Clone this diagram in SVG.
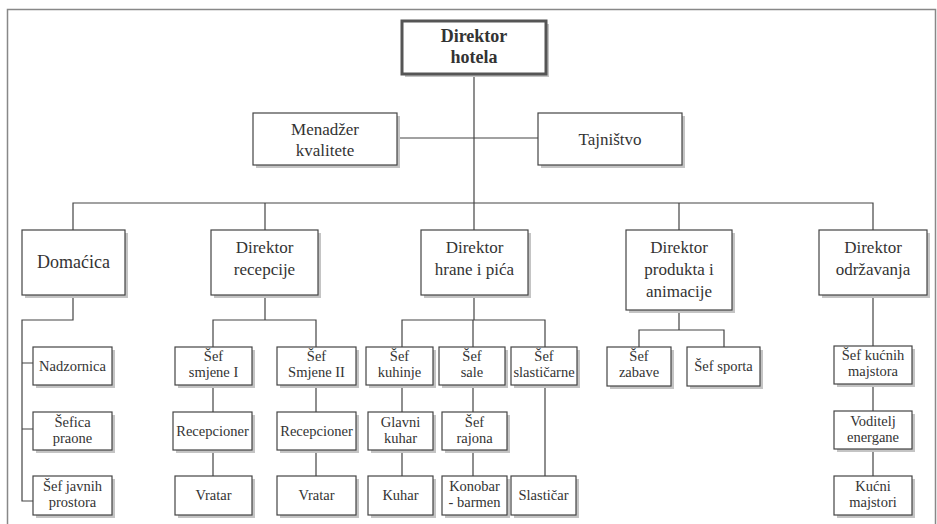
<svg xmlns="http://www.w3.org/2000/svg" width="937" height="524" viewBox="0 0 937 524">
<style>
.sh{fill:#c4c4c4}
.box{fill:#fff;stroke:#444;stroke-width:1.2}
.t{font-family:'Liberation Serif','Tinos','Times New Roman','DejaVu Serif',serif;fill:#333;text-anchor:middle}
.s17{font-size:17px}
.s18{font-size:18px}
.s14{font-size:14.5px}
.b{font-weight:bold}
.l{stroke:#444;stroke-width:1.2;fill:none}
</style>
<rect x="0" y="0" width="937" height="524" fill="#fff"/>
<path d="M7.5 526 V9.5 H935.5 V526" fill="none" stroke="#888" stroke-width="1.5"/>
<g id="connectors">
<path class="l" d="M474 74 V320"/>
<path class="l" d="M397 138 H538"/>
<path class="l" d="M73 230 V203 H873 V230"/>
<path class="l" d="M265 203 V230"/>
<path class="l" d="M679 203 V230"/>
<path class="l" d="M73 295 V320 H22 V501 H33"/>
<path class="l" d="M22 363 H33 M22 429 H33"/>
<path class="l" d="M265 295 V320 M213 347 V320 H316 V347"/>
<path class="l" d="M213 385 V412 M213 450 V476 M316 385 V412 M316 450 V476"/>
<path class="l" d="M402 347 V320 H545 V347 M473 320 V347"/>
<path class="l" d="M402 385 V412 M402 450 V476 M473 385 V412 M473 450 V476 M545 385 V476"/>
<path class="l" d="M679 310 V330 M639 347 V330 H724 V347"/>
<path class="l" d="M873 295 V346 M873 384 V411 M873 449 V476"/>
</g>
<g id="direktor-hotela">
<rect class="sh" x="405" y="24" width="144" height="53"/>
<rect x="402" y="21" width="144" height="53" fill="#fff" stroke="#555" stroke-width="3"/>
<text class="t s18 b" x="474" y="42">Direktor</text>
<text class="t s18 b" x="474" y="63">hotela</text>
</g>
<g id="menadzer-kvalitete">
<rect class="sh" x="256" y="116" width="144" height="52"/>
<rect class="box" x="253" y="113" width="144" height="52"/>
<text class="t s17" x="325" y="135">Menadžer</text>
<text class="t s17" x="325" y="156">kvalitete</text>
</g>
<g id="tajnistvo">
<rect class="sh" x="541" y="116" width="144" height="52"/>
<rect class="box" x="538" y="113" width="144" height="52"/>
<text class="t s17" x="610" y="145">Tajništvo</text>
</g>
<g id="domacica">
<rect class="sh" x="25" y="233" width="103" height="65"/>
<rect class="box" x="22" y="230" width="103" height="65"/>
<text class="t s18" x="73.5" y="268">Domaćica</text>
</g>
<g id="direktor-recepcije">
<rect class="sh" x="214" y="233" width="107" height="65"/>
<rect class="box" x="211" y="230" width="107" height="65"/>
<text class="t s17" x="264.5" y="253">Direktor</text>
<text class="t s17" x="264.5" y="275">recepcije</text>
</g>
<g id="direktor-hrane">
<rect class="sh" x="424" y="233" width="107" height="65"/>
<rect class="box" x="421" y="230" width="107" height="65"/>
<text class="t s17" x="474.5" y="253">Direktor</text>
<text class="t s17" x="474.5" y="275">hrane i pića</text>
</g>
<g id="direktor-produkta">
<rect class="sh" x="629" y="233" width="106" height="80"/>
<rect class="box" x="626" y="230" width="106" height="80"/>
<text class="t s17" x="679" y="253">Direktor</text>
<text class="t s17" x="679" y="275">produkta i</text>
<text class="t s17" x="679" y="297">animacije</text>
</g>
<g id="direktor-odrzavanja">
<rect class="sh" x="822" y="233" width="108" height="65"/>
<rect class="box" x="819" y="230" width="108" height="65"/>
<text class="t s17" x="873" y="253">Direktor</text>
<text class="t s17" x="873" y="275">održavanja</text>
</g>
<g id="nadzornica">
<rect class="sh" x="36" y="350" width="79" height="38"/>
<rect class="box" x="33" y="347" width="79" height="38"/>
<text class="t s14" x="72.5" y="371">Nadzornica</text>
</g>
<g id="sefica-praone">
<rect class="sh" x="36" y="415" width="79" height="38"/>
<rect class="box" x="33" y="412" width="79" height="38"/>
<text class="t s14" x="72.5" y="427">Šefica</text>
<text class="t s14" x="72.5" y="443">praone</text>
</g>
<g id="sef-javnih-prostora">
<rect class="sh" x="36" y="479" width="79" height="39"/>
<rect class="box" x="33" y="476" width="79" height="39"/>
<text class="t s14" x="72.5" y="491">Šef javnih</text>
<text class="t s14" x="72.5" y="507">prostora</text>
</g>
<g id="sef-smjene-1">
<rect class="sh" x="178" y="350" width="77" height="38"/>
<rect class="box" x="175" y="347" width="77" height="38"/>
<text class="t s14" x="213.5" y="361">Šef</text>
<text class="t s14" x="213.5" y="377">smjene I</text>
</g>
<g id="recepcioner-1">
<rect class="sh" x="176" y="415" width="79" height="38"/>
<rect class="box" x="173" y="412" width="79" height="38"/>
<text class="t s14" x="212.5" y="436">Recepcioner</text>
</g>
<g id="vratar-1">
<rect class="sh" x="178" y="479" width="77" height="39"/>
<rect class="box" x="175" y="476" width="77" height="39"/>
<text class="t s14" x="213.5" y="500">Vratar</text>
</g>
<g id="sef-smjene-2">
<rect class="sh" x="280" y="350" width="79" height="38"/>
<rect class="box" x="277" y="347" width="79" height="38"/>
<text class="t s14" x="316.5" y="361">Šef</text>
<text class="t s14" x="316.5" y="377">Smjene II</text>
</g>
<g id="recepcioner-2">
<rect class="sh" x="280" y="415" width="79" height="38"/>
<rect class="box" x="277" y="412" width="79" height="38"/>
<text class="t s14" x="316.5" y="436">Recepcioner</text>
</g>
<g id="vratar-2">
<rect class="sh" x="280" y="479" width="79" height="39"/>
<rect class="box" x="277" y="476" width="79" height="39"/>
<text class="t s14" x="316.5" y="500">Vratar</text>
</g>
<g id="sef-kuhinje">
<rect class="sh" x="369" y="350" width="67" height="38"/>
<rect class="box" x="366" y="347" width="67" height="38"/>
<text class="t s14" x="399.5" y="361">Šef</text>
<text class="t s14" x="399.5" y="377">kuhinje</text>
</g>
<g id="glavni-kuhar">
<rect class="sh" x="371" y="415" width="65" height="38"/>
<rect class="box" x="368" y="412" width="65" height="38"/>
<text class="t s14" x="400.5" y="427">Glavni</text>
<text class="t s14" x="400.5" y="443">kuhar</text>
</g>
<g id="kuhar">
<rect class="sh" x="371" y="479" width="65" height="39"/>
<rect class="box" x="368" y="476" width="65" height="39"/>
<text class="t s14" x="400.5" y="500">Kuhar</text>
</g>
<g id="sef-sale">
<rect class="sh" x="442" y="350" width="66" height="38"/>
<rect class="box" x="439" y="347" width="66" height="38"/>
<text class="t s14" x="472" y="361">Šef</text>
<text class="t s14" x="472" y="377">sale</text>
</g>
<g id="sef-rajona">
<rect class="sh" x="445" y="415" width="65" height="38"/>
<rect class="box" x="442" y="412" width="65" height="38"/>
<text class="t s14" x="474.5" y="427">Šef</text>
<text class="t s14" x="474.5" y="443">rajona</text>
</g>
<g id="konobar-barmen">
<rect class="sh" x="445" y="479" width="65" height="39"/>
<rect class="box" x="442" y="476" width="65" height="39"/>
<text class="t s14" x="474.5" y="491">Konobar</text>
<text class="t s14" x="474.5" y="507">- barmen</text>
</g>
<g id="sef-slasticarne">
<rect class="sh" x="514" y="350" width="66" height="38"/>
<rect class="box" x="511" y="347" width="66" height="38"/>
<text class="t s14" x="544" y="361">Šef</text>
<text class="t s14" x="544" y="377">slastičarne</text>
</g>
<g id="slasticar">
<rect class="sh" x="514" y="479" width="65" height="39"/>
<rect class="box" x="511" y="476" width="65" height="39"/>
<text class="t s14" x="543.5" y="500">Slastičar</text>
</g>
<g id="sef-zabave">
<rect class="sh" x="610" y="350" width="64" height="39"/>
<rect class="box" x="607" y="347" width="64" height="39"/>
<text class="t s14" x="639" y="361">Šef</text>
<text class="t s14" x="639" y="377">zabave</text>
</g>
<g id="sef-sporta">
<rect class="sh" x="690" y="350" width="73" height="39"/>
<rect class="box" x="687" y="347" width="73" height="39"/>
<text class="t s14" x="723.5" y="371">Šef sporta</text>
</g>
<g id="sef-kucnih-majstora">
<rect class="sh" x="837" y="349" width="78" height="38"/>
<rect class="box" x="834" y="346" width="78" height="38"/>
<text class="t s14" x="873" y="360">Šef kućnih</text>
<text class="t s14" x="873" y="376">majstora</text>
</g>
<g id="voditelj-energane">
<rect class="sh" x="837" y="414" width="78" height="38"/>
<rect class="box" x="834" y="411" width="78" height="38"/>
<text class="t s14" x="873" y="426">Voditelj</text>
<text class="t s14" x="873" y="442">energane</text>
</g>
<g id="kucni-majstori">
<rect class="sh" x="837" y="479" width="78" height="39"/>
<rect class="box" x="834" y="476" width="78" height="39"/>
<text class="t s14" x="873" y="491">Kućni</text>
<text class="t s14" x="873" y="507">majstori</text>
</g>
</svg>
